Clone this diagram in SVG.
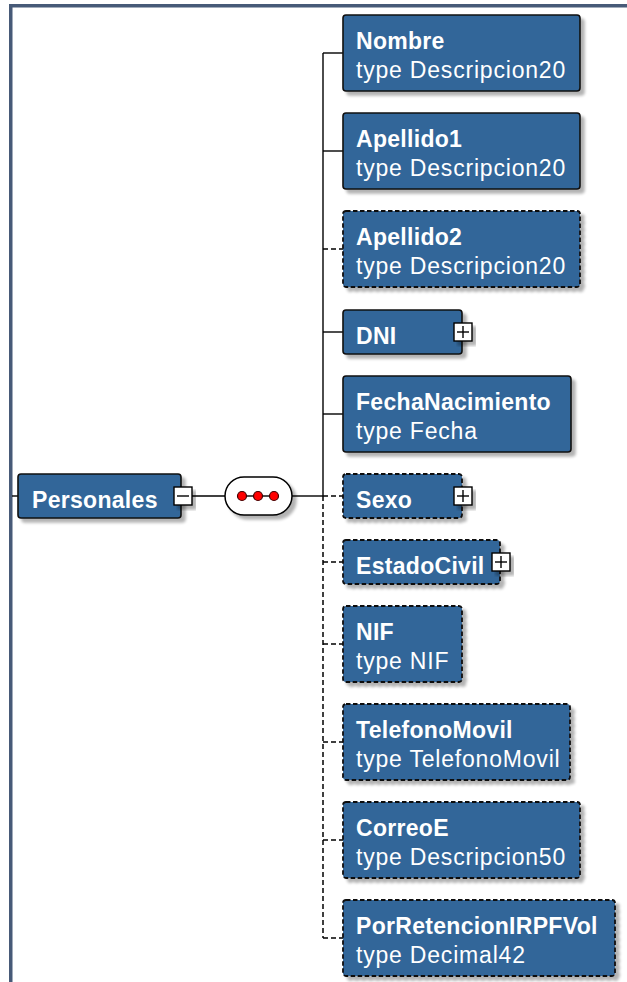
<svg xmlns="http://www.w3.org/2000/svg" width="627" height="982" viewBox="0 0 627 982">
<defs>
<filter id="sh" x="-10%" y="-10%" width="130%" height="140%">
<feGaussianBlur in="SourceAlpha" stdDeviation="1.8"/>
<feOffset dx="4" dy="4"/>
<feComponentTransfer><feFuncA type="linear" slope="0.3"/></feComponentTransfer>
<feMerge><feMergeNode/><feMergeNode in="SourceGraphic"/></feMerge>
</filter>
<style>
.box{fill:#336699;stroke:#111;stroke-width:1.6;filter:url(#sh)}
.opt{stroke-width:1.8;stroke-dasharray:4.5 2.5}
.nm{font-family:"Liberation Sans",Arial,sans-serif;font-weight:bold;font-size:23px;fill:#fff;letter-spacing:0.3px}
.ty{font-family:"Liberation Sans",Arial,sans-serif;font-size:23px;fill:#fff;letter-spacing:0.8px}
.ln{stroke:#000;stroke-width:1.4;fill:none}
.dl{stroke:#000;stroke-width:1.5;fill:none;stroke-dasharray:5 3}
.ic{fill:#fff;stroke:#000;stroke-width:1.4;filter:url(#sh)}
.frame{fill:#475a78}
</style>
</defs>
<rect class="frame" x="9" y="4" width="618" height="3.5"/>
<rect class="frame" x="9" y="4" width="3.5" height="978"/>
<g id="connectors">
<line class="ln" x1="12" y1="496" x2="18" y2="496"/>
<line class="ln" x1="192" y1="496" x2="225" y2="496"/>
<line class="ln" x1="292" y1="496" x2="323" y2="496"/>
<line class="ln" x1="323" y1="53" x2="323" y2="496"/>
<line class="dl" x1="323" y1="496" x2="323" y2="938"/>
<line class="ln" x1="323" y1="53" x2="343" y2="53"/>
<line class="ln" x1="323" y1="151" x2="343" y2="151"/>
<line class="dl" x1="323" y1="249" x2="343" y2="249"/>
<line class="ln" x1="323" y1="332" x2="343" y2="332"/>
<line class="ln" x1="323" y1="414" x2="343" y2="414"/>
<line class="dl" x1="323" y1="496" x2="343" y2="496"/>
<line class="dl" x1="323" y1="562" x2="343" y2="562"/>
<line class="dl" x1="323" y1="644" x2="343" y2="644"/>
<line class="dl" x1="323" y1="742" x2="343" y2="742"/>
<line class="dl" x1="323" y1="840" x2="343" y2="840"/>
<line class="dl" x1="323" y1="938" x2="343" y2="938"/>
</g>
<g id="Personales">
<rect class="box" x="18" y="474" width="163" height="44" rx="3"/>
<text class="nm" x="32" y="508">Personales</text>
<rect class="ic" x="174" y="487" width="18" height="18"/>
<line class="ln" x1="177" y1="496" x2="189" y2="496"/>
</g>
<g id="sequence">
<rect x="225" y="477" width="67" height="38" rx="19" fill="#fff" stroke="#000" stroke-width="1.5" filter="url(#sh)"/>
<line class="ln" x1="242" y1="496" x2="274" y2="496"/>
<circle cx="242" cy="496" r="4.5" fill="#f00" stroke="#400" stroke-width="1.2"/>
<circle cx="258" cy="496" r="4.5" fill="#f00" stroke="#400" stroke-width="1.2"/>
<circle cx="274" cy="496" r="4.5" fill="#f00" stroke="#400" stroke-width="1.2"/>
</g>
<g id="Nombre">
<rect class="box" x="343" y="15" width="237" height="76" rx="3"/>
<text class="nm" x="356" y="49">Nombre</text>
<text class="ty" x="356" y="78">type Descripcion20</text>
</g>
<g id="Apellido1">
<rect class="box" x="343" y="113" width="237" height="76" rx="3"/>
<text class="nm" x="356" y="147">Apellido1</text>
<text class="ty" x="356" y="176">type Descripcion20</text>
</g>
<g id="Apellido2">
<rect class="box opt" x="343" y="211" width="237" height="76" rx="3"/>
<text class="nm" x="356" y="245">Apellido2</text>
<text class="ty" x="356" y="274">type Descripcion20</text>
</g>
<g id="DNI">
<rect class="box" x="343" y="310" width="119" height="44" rx="3"/>
<text class="nm" x="356" y="344">DNI</text>
<rect class="ic" x="454" y="323" width="18" height="18"/>
<line class="ln" x1="457" y1="332" x2="469" y2="332"/>
<line class="ln" x1="463" y1="326" x2="463" y2="338"/>
</g>
<g id="FechaNacimiento">
<rect class="box" x="343" y="376" width="228" height="76" rx="3"/>
<text class="nm" x="356" y="410">FechaNacimiento</text>
<text class="ty" x="356" y="439">type Fecha</text>
</g>
<g id="Sexo">
<rect class="box opt" x="343" y="474" width="119" height="44" rx="3"/>
<text class="nm" x="356" y="508">Sexo</text>
<rect class="ic" x="454" y="487" width="18" height="18"/>
<line class="ln" x1="457" y1="496" x2="469" y2="496"/>
<line class="ln" x1="463" y1="490" x2="463" y2="502"/>
</g>
<g id="EstadoCivil">
<rect class="box opt" x="343" y="540" width="157" height="44" rx="3"/>
<text class="nm" x="356" y="574">EstadoCivil</text>
<rect class="ic" x="492" y="553" width="18" height="18"/>
<line class="ln" x1="495" y1="562" x2="507" y2="562"/>
<line class="ln" x1="501" y1="556" x2="501" y2="568"/>
</g>
<g id="NIF">
<rect class="box opt" x="343" y="606" width="119" height="76" rx="3"/>
<text class="nm" x="356" y="640">NIF</text>
<text class="ty" x="356" y="669">type NIF</text>
</g>
<g id="TelefonoMovil">
<rect class="box opt" x="343" y="704" width="227" height="76" rx="3"/>
<text class="nm" x="356" y="738">TelefonoMovil</text>
<text class="ty" x="356" y="767">type TelefonoMovil</text>
</g>
<g id="CorreoE">
<rect class="box opt" x="343" y="802" width="237" height="76" rx="3"/>
<text class="nm" x="356" y="836">CorreoE</text>
<text class="ty" x="356" y="865">type Descripcion50</text>
</g>
<g id="PorRetencionIRPFVol">
<rect class="box opt" x="343" y="900" width="272" height="76" rx="3"/>
<text class="nm" x="356" y="934">PorRetencionIRPFVol</text>
<text class="ty" x="356" y="963">type Decimal42</text>
</g>
</svg>
